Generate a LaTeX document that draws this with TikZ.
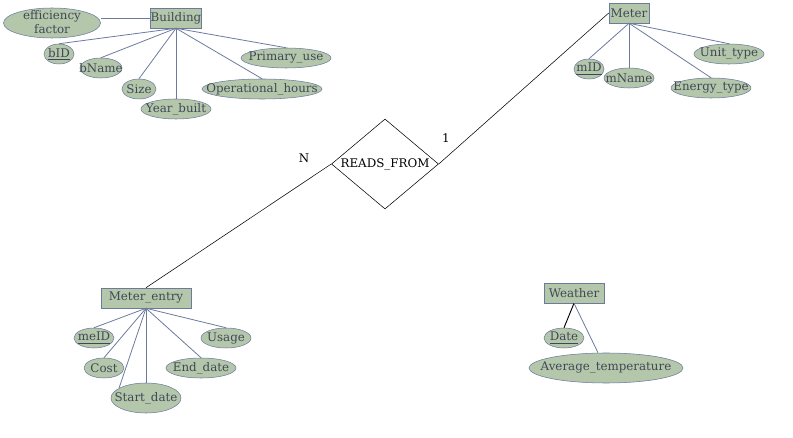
\documentclass[tikz,border=0pt]{standalone}
\usepackage{fontspec}
\setmainfont{DejaVu Serif}
\usepackage{tikz}
\usetikzlibrary{shapes.geometric}

\definecolor{attrfill}{RGB}{180,199,170}
\definecolor{attrline}{RGB}{108,122,158}
\definecolor{attrtext}{RGB}{64,72,88}

% attribute text that does not widen its ellipse
\newcommand{\att}[1]{\makebox[0pt]{#1}}

\begin{document}
\begin{tikzpicture}[
  x=0.75pt, y=-0.75pt,
  font=\fontsize{8.9}{10}\selectfont,
  entity/.style={draw=attrline, fill=attrfill, text=attrtext, inner sep=0pt,
                 minimum height=15pt},
  attr/.style={ellipse, draw=attrline, fill=attrfill, text=attrtext, inner sep=0pt,
               minimum height=15pt},
  rel/.style={diamond, draw, inner sep=0pt, minimum width=80.25pt, minimum height=67.5pt},
  link/.style={draw=attrline, line width=0.6pt},
  card/.style={font=\fontsize{8.9}{10}\selectfont},
]
\useasboundingbox (0,0) rectangle (793,438);

% Building
\node[entity, minimum width=37.5pt]  (bld) at (176,18)  {Building};
\node[attr, minimum width=72.75pt, minimum height=22.5pt] (eff) at (52,23)
  {\att{\raisebox{-2.8pt}[0pt][0pt]{\begin{tabular}{@{}c@{}}efficiency\\[0.8pt]factor\end{tabular}}}};
\node[attr, minimum width=22.5pt]    (bid) at (59,54)   {\att{\underline{bID}}};
\node[attr, minimum width=31.5pt]    (bnm) at (101,68)  {\att{bName}};
\node[attr, minimum width=25.5pt]    (siz) at (139,89)  {\att{Size}};
\node[attr, minimum width=52.5pt]    (yrb) at (176,109) {\att{Year\_built}};
\node[attr, minimum width=90pt]      (oph) at (262,89)  {\att{Operational\_hours}};
\node[attr, minimum width=67.5pt]    (pru) at (286,58)  {\att{Primary\_use}};

\draw[link] (bld.west) -- (eff.east |- bld.west);
\draw[link] (bld.south) -- (bid.north);
\draw[link] (bld.south) -- (bnm.north);
\draw[link] (bld.south) -- (siz.north);
\draw[link] (bld.south) -- (yrb.north);
\draw[link] (bld.south) -- (oph.north);
\draw[link] (bld.south) -- (pru.north);

% Meter
\node[entity, minimum width=30pt]    (mtr) at (629,13)  {Meter};
\node[attr, minimum width=22.5pt]    (mid) at (589,69)  {\att{\underline{mID}}};
\node[attr, minimum width=37.5pt]    (mnm) at (629,78)  {\att{mName}};
\node[attr, minimum width=60pt]      (ent) at (711,88)  {\att{Energy\_type}};
\node[attr, minimum width=52.5pt]    (unt) at (729,54)  {\att{Unit\_type}};

\draw[link] (mtr.south) -- (mid.north);
\draw[link] (mtr.south) -- (mnm.north);
\draw[link] (mtr.south) -- (ent.north);
\draw[link] (mtr.south) -- (unt.north);

% relationship
\node[rel] (rdf) at (385,164) {\makebox[0pt]{READS\_FROM}};
\node[card] (crdn) at (304,158) {N};
\node[card] (crd1) at (446,138) {1};

% Meter_entry
\node[entity, minimum width=67.5pt]  (men) at (146,298) {Meter\_entry};
\node[attr, minimum width=30pt]      (mei) at (94,338)  {\att{\underline{meID}}};
\node[attr, minimum width=30pt]      (cst) at (104,368) {\att{Cost}};
\node[attr, minimum width=52.5pt, minimum height=22.5pt] (std) at (146,398) {\att{Start\_date}};
\node[attr, minimum width=52.5pt]    (end) at (201,368) {\att{End\_date}};
\node[attr, minimum width=37.5pt]    (usg) at (226,338) {\att{Usage}};

\draw[link] (men.south) -- (mei.north);
\draw[link] (men.south) -- (cst.north);
\draw[link] (men.south) -- (std.160);
\draw[link] (men.south) -- (std.north);
\draw[link] (men.south) -- (end.north);
\draw[link] (men.south) -- (usg.north);

\draw (rdf.west) -- (men.north);
\draw (rdf.east) -- (mtr.west);

% Weather
\node[entity, minimum width=45pt]    (wth) at (574,293) {Weather};
\node[attr, minimum width=30pt]      (dte) at (564,338) {\att{\underline{Date}}};
\node[attr, minimum width=115.5pt, minimum height=22.5pt] (avt) at (606,368) {\att{Average\_temperature}};

\draw[line width=0.7pt] (wth.south) -- (dte.north);
\draw[link] (wth.south) -- ([xshift=-6pt]avt.north);
\end{tikzpicture}
\end{document}
